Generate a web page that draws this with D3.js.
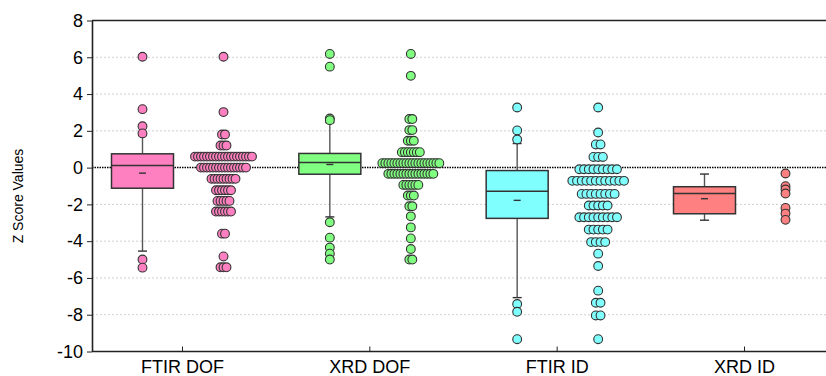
<!DOCTYPE html>
<html><head><meta charset="utf-8">
<script src="https://cdn.jsdelivr.net/npm/d3@7"></script>
<style>body{margin:0;background:#fff}svg{display:block}</style>
</head><body><svg id="c" width="826" height="376"></svg>
<script>
// ---------- data ----------
const categories = ["FTIR DOF", "XRD DOF", "FTIR ID", "XRD ID"];
const yTicks = [-10, -8, -6, -4, -2, 0, 2, 4, 6, 8];
const boxQ1 = [-1.12, -0.36, -2.76, -2.51];
const boxMedian = [0.11, 0.28, -1.29, -1.41];
const boxQ3 = [0.75, 0.77, -0.16, -1.04];
const boxMean = [-0.30, 0.17, -1.78, -1.69];
const whiskerLow = [-4.54, -2.68, -7.07, -2.86];
const whiskerHigh = [1.75, 2.45, 1.31, -0.35];
const outliers = [
  [6.03, 3.18, 2.25, 1.86, -5.00, -5.44],
  [6.18, 5.49, 2.67, 2.58, -2.97, -3.81, -4.35, -4.68, -5.00],
  [3.27, 2.02, 1.53, -7.42, -7.84, -9.33],
  []
];
// dot-plot rows: binned value and number of dots in the row
const dotValues = [
  [6.03, 3.02, 1.80, 1.20, 0.60, 0.00, -0.61, -1.23, -1.81, -2.39, -3.59, -4.83, -5.42],
  [6.18, 4.99, 2.64, 2.04, 1.46, 0.84, 0.24, -0.34, -0.94, -1.52, -2.10, -2.65, -3.25, -3.85, -4.43, -5.00],
  [3.27, 1.91, 1.26, 0.58, -0.09, -0.72, -1.43, -2.06, -2.70, -3.37, -4.05, -4.68, -5.35, -6.69, -7.35, -8.04, -9.33],
  [-0.32, -1.01, -1.19, -1.41, -2.19, -2.50, -2.84]
];
const dotCounts = [
  [1, 1, 2, 3, 20, 16, 9, 6, 5, 6, 2, 1, 3],
  [1, 1, 2, 2, 3, 7, 20, 16, 6, 3, 2, 1, 1, 1, 1, 2],
  [1, 1, 2, 3, 9, 12, 8, 5, 9, 5, 4, 1, 1, 1, 2, 2, 1],
  [1, 1, 1, 1, 1, 1, 1]
];

// ---------- styles ----------
const colors = ["#ff80c0", "#80ff80", "#80ffff", "#ff8080"];
const dotStep = [3.0, 3.0, 4.7, 3.0];
const pLeft = 92, pTop = 20.5, pBottom = 351.5, pRight = 830;
const font = "'Liberation Sans', Arial, sans-serif";

const svg = d3.select("#c");
const y = d3.scaleLinear().domain([-10, 8]).range([pBottom, pTop]);
const x = d3.scalePoint().domain(categories).range([182, 744]);
const boxOff = -39.5, dotOff = 41.5, boxW = 62;

// grid
svg.append("g").selectAll("line").data(yTicks.filter(v => v > -10 && v < 8 && v !== 0))
  .join("line")
  .attr("x1", pLeft).attr("x2", pRight)
  .attr("y1", d => y(d)).attr("y2", d => y(d))
  .attr("stroke", "#cfcfcf").attr("stroke-width", 1).attr("stroke-dasharray", "2,2");

// zero line
svg.append("line").attr("x1", pLeft).attr("x2", pRight)
  .attr("y1", y(0)).attr("y2", y(0))
  .attr("stroke", "#000").attr("stroke-width", 1.5).attr("stroke-dasharray", "1.5,1");

// boxes
categories.forEach((c, i) => {
  const cx = x(c) + boxOff;
  const g = svg.append("g");
  g.append("line").attr("x1", cx).attr("x2", cx)
    .attr("y1", y(boxQ3[i])).attr("y2", y(whiskerHigh[i]))
    .attr("stroke", "#555").attr("stroke-width", 1.4);
  g.append("line").attr("x1", cx).attr("x2", cx)
    .attr("y1", y(boxQ1[i])).attr("y2", y(whiskerLow[i]))
    .attr("stroke", "#555").attr("stroke-width", 1.4);
  [whiskerHigh[i], whiskerLow[i]].forEach(v => {
    g.append("line").attr("x1", cx - 4.5).attr("x2", cx + 4.5)
      .attr("y1", y(v)).attr("y2", y(v))
      .attr("stroke", "#333").attr("stroke-width", 1.4);
  });
  g.append("rect").attr("x", cx - boxW / 2).attr("width", boxW)
    .attr("y", y(boxQ3[i])).attr("height", y(boxQ1[i]) - y(boxQ3[i]))
    .attr("fill", colors[i]).attr("stroke", "#333").attr("stroke-width", 1.5);
  g.append("line").attr("x1", cx - boxW / 2).attr("x2", cx + boxW / 2)
    .attr("y1", y(boxMedian[i])).attr("y2", y(boxMedian[i]))
    .attr("stroke", "#333").attr("stroke-width", 1.5);
  g.append("line").attr("x1", cx - 3.5).attr("x2", cx + 3.5)
    .attr("y1", y(boxMean[i])).attr("y2", y(boxMean[i]))
    .attr("stroke", "#333").attr("stroke-width", 1.4);
  g.selectAll("circle.o").data(outliers[i]).join("circle")
    .attr("cx", cx).attr("cy", d => y(d)).attr("r", 4.4)
    .attr("fill", colors[i]).attr("stroke", "#333").attr("stroke-width", 1.1);
});

// dot plots
categories.forEach((c, i) => {
  const cx = x(c) + dotOff;
  const pts = [];
  dotValues[i].forEach((v, k) => {
    const n = dotCounts[i][k];
    for (let j = 0; j < n; j++) pts.push({ v, dx: (j - (n - 1) / 2) * dotStep[i] });
  });
  svg.append("g").selectAll("circle").data(pts).join("circle")
    .attr("cx", d => cx + d.dx).attr("cy", d => y(d.v)).attr("r", 4.4)
    .attr("fill", colors[i]).attr("stroke", "#333").attr("stroke-width", 1.1);
});

// frame
svg.append("line").attr("x1", pLeft).attr("x2", pRight).attr("y1", pTop).attr("y2", pTop)
  .attr("stroke", "#222").attr("stroke-width", 1.6);
svg.append("line").attr("x1", pLeft).attr("x2", pRight).attr("y1", pBottom).attr("y2", pBottom)
  .attr("stroke", "#222").attr("stroke-width", 1.6);

// y axis
const ya = svg.append("g").attr("transform", `translate(${pLeft},0)`)
  .call(d3.axisLeft(y).tickValues(yTicks).tickFormat(d3.format("d")).tickSize(5).tickSizeOuter(0).tickPadding(4));
ya.select(".domain").attr("stroke", "#222").attr("stroke-width", 1.6);
ya.selectAll(".tick line").attr("stroke", "#222");
ya.selectAll("text").attr("font-family", font).attr("font-size", 18).attr("fill", "#000")
  .text(d => d < 0 ? "-" + Math.abs(d) : d);

// x axis
const xa = svg.append("g").attr("transform", `translate(0,${pBottom})`)
  .call(d3.axisBottom(x).tickSize(-5).tickSizeOuter(0).tickPadding(9));
xa.select(".domain").remove();
xa.selectAll(".tick line").attr("stroke", "#222");
xa.selectAll("text").attr("font-family", font).attr("font-size", 18).attr("fill", "#000");

// y label
svg.append("text").attr("transform", "translate(23,196) rotate(-90)")
  .attr("text-anchor", "middle").attr("font-family", font).attr("font-size", 14)
  .attr("fill", "#000").text("Z Score Values");
</script></body></html>
